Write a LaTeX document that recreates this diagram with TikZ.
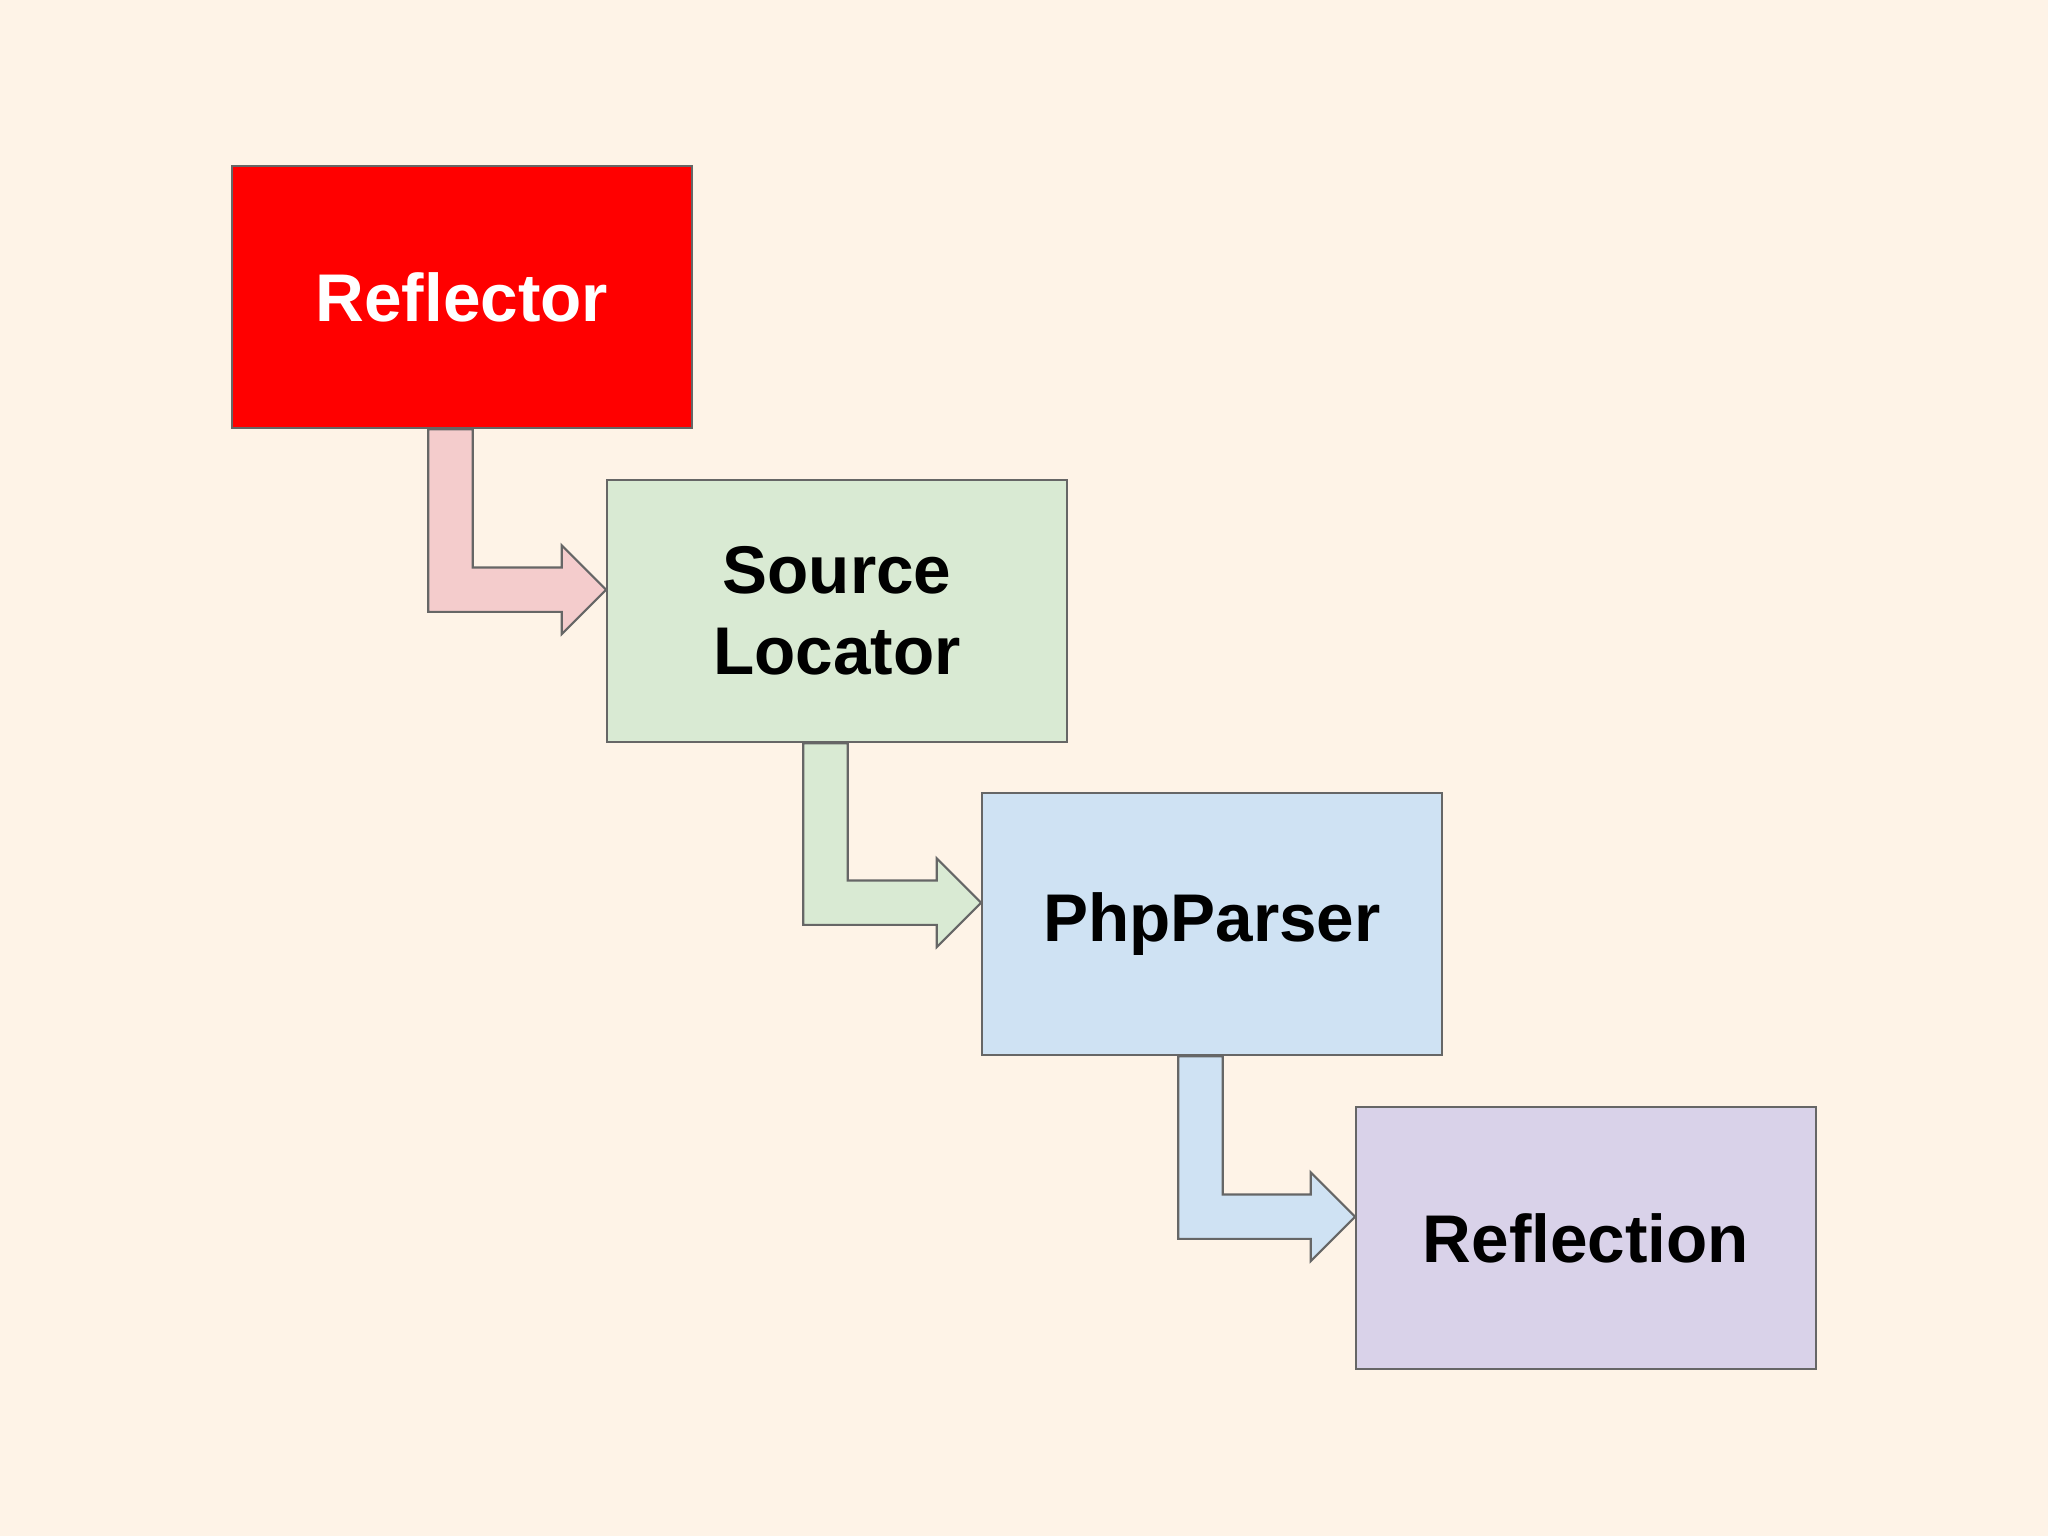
\documentclass[tikz,border=0pt]{standalone}
\usepackage{fontspec}
\setmainfont{Liberation Sans}
\usepackage{tikz}
\usetikzlibrary{calc}
\definecolor{paper}{HTML}{FEF3E7}
\definecolor{edge}{HTML}{666666}
\definecolor{boxred}{HTML}{FF0000}
\definecolor{boxgreen}{HTML}{D9EAD3}
\definecolor{boxblue}{HTML}{CFE2F3}
\definecolor{boxpurple}{HTML}{D9D2E9}
\definecolor{arrowred}{HTML}{F4CCCC}
\tikzset{stage/.style={draw=edge,line width=0.6pt,minimum width=4.597cm,
  minimum height=2.625cm,align=center,inner sep=0pt,
  font=\fontsize{19.2}{23}\selectfont\bfseries},
 bent/.style={draw=edge,line width=0.6pt,line join=miter},
 }

\begin{document}
\begin{tikzpicture}
    \fill[paper] (0,0) rectangle (20.48,15.36);
    \useasboundingbox (0,0) rectangle (20.48,15.36);
    \node[stage, fill=boxred, text=white] (refl) at (4.62, 12.39) {Reflector};
    \node[stage, fill=boxgreen] (src) at (8.37, 9.25) {Source\\Locator};
    \node[stage, fill=boxblue] (php) at (12.12, 6.12) {PhpParser};
    \node[stage, fill=boxpurple] (refn) at (15.86, 2.98) {Reflection};
    \foreach \a/\b/\c in {refl/src/arrowred, src/php/boxgreen, php/refn/boxblue} {
        \coordinate (tip) at ($(\b.north west)+(0,-1.11)$);
        \coordinate (top) at ($(\a.south west)+(1.972,0)$);
        \draw[bent, fill=\c] (top) |- ($(tip)+(-0.444,-0.222)$) -- ++(0,-0.222)
            -- (tip) -- ++(-0.444,0.444) -- ++(0,-0.222) -| ($(top)+(0.444,0)$) -- cycle;
    }
\end{tikzpicture}
\end{document}
